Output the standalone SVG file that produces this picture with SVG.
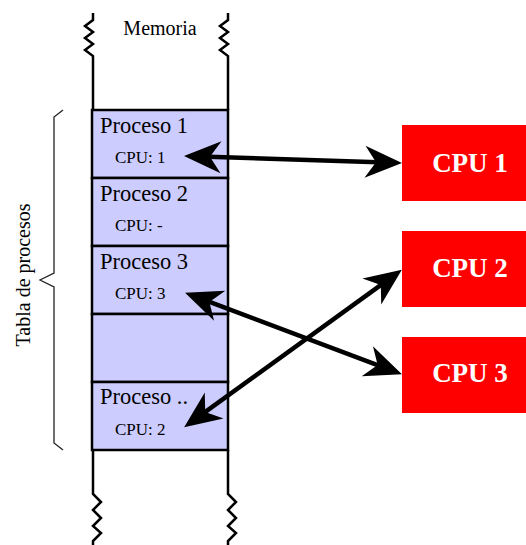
<svg xmlns="http://www.w3.org/2000/svg" width="526" height="545" viewBox="0 0 526 545">
  <style>
    .serif { font-family: "Liberation Serif", "Times New Roman", serif; fill: #000; }
    .cell { fill: #ccccff; stroke: #000; stroke-width: 2.5; }
    .wall { fill: none; stroke: #000; stroke-width: 2.5; stroke-linejoin: miter; }
    .pname { font-size: 22.5px; }
    .pcpu { font-size: 17px; }
    .cpu rect { fill: #ff0000; }
    .cpu text { font-family: "Liberation Serif", "Times New Roman", serif; font-weight: bold; font-size: 27px; fill: #fff; text-anchor: middle; }
    .link { stroke: #000; stroke-width: 4.5; fill: none; marker-start: url(#head); marker-end: url(#head); }
  </style>
  <defs>
    <marker id="head" viewBox="-40 -20 44 40" refX="-24" refY="0" markerWidth="44" markerHeight="40" markerUnits="userSpaceOnUse" orient="auto-start-reverse">
      <path d="M0,0 L-37,-16 L-26,0 L-37,16 Z" fill="#000"/>
    </marker>
  </defs>

  <rect width="526" height="545" fill="#fff"/>

  <!-- memory column -->
  <g id="memory">
    <text class="serif" x="160" y="35" font-size="20" text-anchor="middle">Memoria</text>
    <g id="proceso1">
      <rect class="cell" x="92" y="110" width="136" height="68"/>
      <text class="serif pname" x="100" y="133">Proceso 1</text>
      <text class="serif pcpu" x="115" y="163">CPU: 1</text>
    </g>
    <g id="proceso2">
      <rect class="cell" x="92" y="178" width="136" height="68"/>
      <text class="serif pname" x="100" y="201">Proceso 2</text>
      <text class="serif pcpu" x="115" y="231">CPU: -</text>
    </g>
    <g id="proceso3">
      <rect class="cell" x="92" y="246" width="136" height="68"/>
      <text class="serif pname" x="100" y="269">Proceso 3</text>
      <text class="serif pcpu" x="115" y="299">CPU: 3</text>
    </g>
    <g id="vacio">
      <rect class="cell" x="92" y="314" width="136" height="68"/>
    </g>
    <g id="procesoN">
      <rect class="cell" x="92" y="382" width="136" height="68"/>
      <text class="serif pname" x="100" y="404">Proceso ..</text>
      <text class="serif pcpu" x="115" y="435">CPU: 2</text>
    </g>
    <!-- broken walls above and below -->
    <path class="wall" d="M93,13 L93,20 L85,26 L93,32 L85,38 L93,44 L85,50 L93,56 L93,110"/>
    <path class="wall" d="M228,13 L228,20 L220,26 L228,32 L220,38 L228,44 L220,50 L228,56 L228,110"/>
    <path class="wall" d="M93,450 L93,494 L101,502 L93,510 L101,518 L93,526 L101,533 L93,541 L93,545"/>
    <path class="wall" d="M228,450 L228,494 L236,502 L228,510 L236,518 L228,526 L236,533 L228,541 L228,545"/>
  </g>

  <!-- process table brace -->
  <g id="tabla">
    <path d="M63,110 L54,117 L54,273 L40,280 L54,287 L54,443 L63,450" fill="none" stroke="#222" stroke-width="1.3"/>
    <text class="serif" font-size="20" text-anchor="middle" transform="translate(30,275) rotate(-90)">Tabla de procesos</text>
  </g>

  <!-- CPUs -->
  <g id="cpu1" class="cpu">
    <rect x="402" y="125" width="136" height="76"/>
    <text x="470" y="172">CPU 1</text>
  </g>
  <g id="cpu2" class="cpu">
    <rect x="402" y="231" width="136" height="76"/>
    <text x="470" y="277">CPU 2</text>
  </g>
  <g id="cpu3" class="cpu">
    <rect x="402" y="337" width="136" height="76"/>
    <text x="470" y="382">CPU 3</text>
  </g>

  <!-- connectors -->
  <g id="connectors">
    <line class="link" x1="208" y1="156.8" x2="378" y2="162.2"/>
    <line class="link" x1="207.5" y1="301.2" x2="379.5" y2="365.8"/>
    <line class="link" x1="203.6" y1="413.1" x2="382.4" y2="283.9"/>
  </g>
</svg>
